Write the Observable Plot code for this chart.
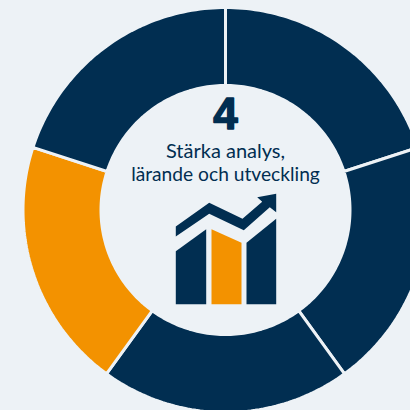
<!DOCTYPE html>
<html><head><meta charset="utf-8">
<script src="https://cdn.jsdelivr.net/npm/d3@7"></script>
<script src="https://cdn.jsdelivr.net/npm/@observablehq/plot@0.6"></script>
<style>html,body{margin:0;padding:0;background:#edf2f6;overflow:hidden}svg{display:block}</style>
</head><body><div id="chart"></div>
<script>
const segments = ["1","2","3","4","5"];
const shares = [1,1,1,1,1];
const highlighted = "4";
const numberLabel = "4";
const titleLines = ["Stärka analys,","lärande och utveckling"];
const navy="#012e51", orange="#f39200", bg="#edf2f6";
// pictogram outlines, in picture units
const iconShapes = [
 {id:"trend",color:navy,pts:[[175.3,226],[208.7,202.3],[242,218.3],[261.7,201.3],[256.7,196.7],[275.7,193.3],[275.7,211.7],[269.3,206.7],[243.3,229.7],[208.7,213.3],[175.3,236]]},
 {id:"bar1",color:navy,pts:[[175.3,250.7],[205.7,228.7],[205.7,303.7],[175.3,303.7]]},
 {id:"bar2",color:orange,pts:[[211,228.7],[241,242.3],[241,303.7],[211,303.7]]},
 {id:"bar3",color:navy,pts:[[246,242.3],[275.7,218.3],[275.7,303.7],[246,303.7]]}
];
const cx=225, cy=209.5, rOuter=202.5, rInner=124.5;
const pie=d3.pie().sort(null)(shares);
const ringRows=[];
pie.forEach((p,i)=>{
  const id=segments[i], color=id===highlighted?orange:navy, n=60, pts=[];
  for(let k=0;k<=n;k++){const a=p.startAngle+(p.endAngle-p.startAngle)*k/n; pts.push([cx+rOuter*Math.sin(a),cy-rOuter*Math.cos(a)]);}
  for(let k=n;k>=0;k--){const a=p.startAngle+(p.endAngle-p.startAngle)*k/n; pts.push([cx+rInner*Math.sin(a),cy-rInner*Math.cos(a)]);}
  pts.push(pts[0]);
  pts.forEach(q=>ringRows.push({id,color,x:q[0],y:q[1]}));
});
const iconRows=iconShapes.flatMap(s=>[...s.pts,s.pts[0]].map(q=>({id:s.id,color:s.color,x:q[0],y:q[1]})));
const plot=Plot.plot({
  width:410,height:410,margin:0,
  style:{background:bg},
  x:{domain:[0,410],range:[0,410],axis:null},
  y:{domain:[0,410],range:[0,410],axis:null},
  color:{type:"identity"},
  marks:[
    Plot.line(ringRows,{x:"x",y:"y",z:"id",fill:"color",stroke:bg,strokeWidth:3,strokeLinejoin:"miter"}),
    Plot.line(iconRows,{x:"x",y:"y",z:"id",fill:"color",stroke:"none"}),
    Plot.text([numberLabel],{x:()=>cx,y:()=>114.5,text:d=>d,fontFamily:"Liberation Sans",fontWeight:700,fontSize:44,fill:navy,stroke:navy,strokeWidth:1.5}),
    Plot.text([titleLines[0]],{x:()=>cx,y:()=>151,text:d=>d,fontFamily:"Lato",fontSize:20,fill:navy}),
    Plot.text([titleLines[1]],{x:()=>cx,y:()=>174.5,text:d=>d,fontFamily:"Lato",fontSize:19.2,fill:navy})
  ]
});
document.getElementById("chart").appendChild(plot);
</script></body></html>
